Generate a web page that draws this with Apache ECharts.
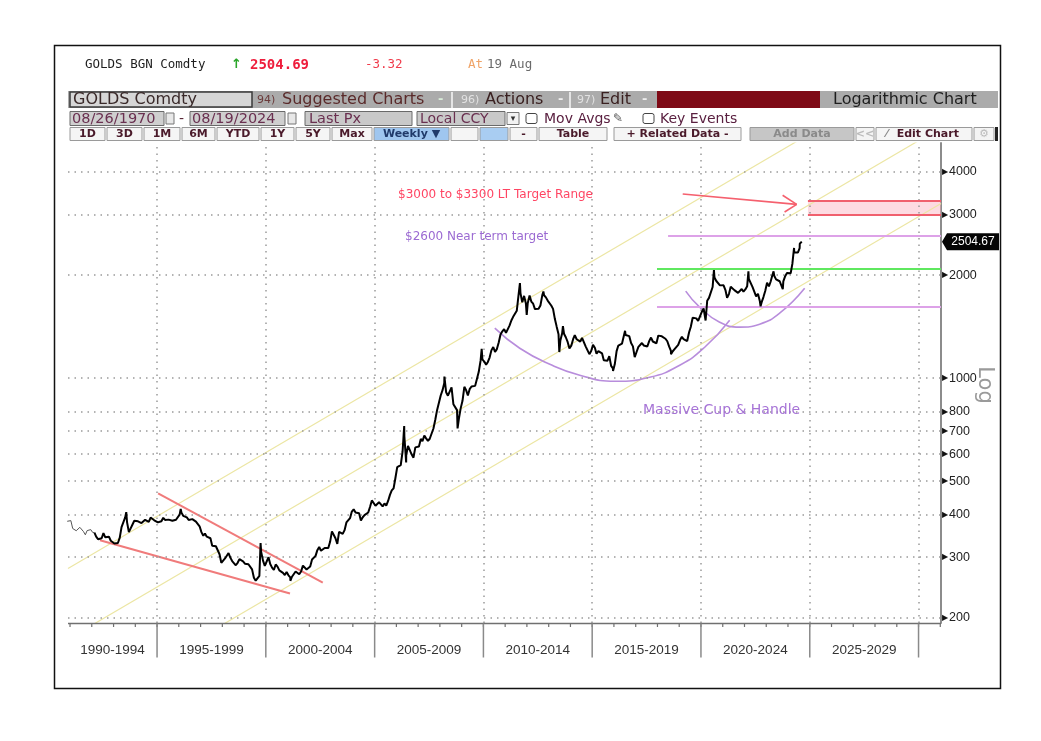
<!DOCTYPE html>
<html>
<head>
<meta charset="utf-8">
<title>GOLDS BGN Comdty</title>
<script src="https://cdn.jsdelivr.net/npm/echarts@6/dist/echarts.min.js"></script>
<style>
html,body{margin:0;padding:0;background:#fff;}
#chart{width:1041px;height:741px;}
</style>
</head>
<body>
<div id="chart"></div>
<script>
// ================= DATA =================
// Monthly gold price (USD/oz), starting Nov 1990
const firstMonth = [1990, 11];
const monthlyPrices = [
  381.9, 378.2,
  383.6, 363.8, 363.3, 358.4, 356.8, 366.7, 367.7, 356.4, 348.7, 358.7, 359.8, 361.1,
  354.5, 353.9, 344.3, 338.6, 337.2, 340.8, 352.7, 342.9, 345.4, 344.4, 335.0, 334.8,
  329.0, 329.3, 330.1, 342.2, 367.2, 371.9, 392.0, 379.8, 355.3, 364.2, 373.8, 383.3,
  387.0, 381.9, 384.1, 377.3, 381.4, 385.6, 385.5, 380.4, 391.6, 389.8, 384.4, 379.3,
  379.0, 376.6, 382.1, 391.0, 385.3, 387.6, 386.2, 383.7, 383.1, 383.0, 385.9, 387.0,
  399.5, 404.8, 396.2, 392.9, 391.9, 385.3, 383.5, 387.5, 383.1, 381.1, 377.9, 369.3,
  355.0, 346.6, 351.8, 344.4, 343.8, 340.8, 324.1, 324.0, 322.8, 324.9, 306.0, 288.7,
  289.3, 297.5, 295.9, 308.4, 299.1, 292.3, 292.9, 284.1, 288.9, 295.9, 294.1, 291.6,
  287.1, 287.3, 286.0, 282.6, 276.4, 261.3, 256.1, 256.7, 264.7, 310.7, 293.2, 283.1,
  284.6, 299.9, 286.4, 279.7, 275.2, 285.7, 281.6, 274.5, 273.7, 270.0, 266.0, 271.5,
  265.5, 261.9, 263.0, 260.5, 272.4, 270.2, 267.5, 272.4, 283.4, 283.1, 276.2, 275.9,
  281.7, 295.5, 294.0, 302.7, 314.5, 321.2, 313.3, 310.3, 319.2, 316.6, 319.2, 332.6,
  356.9, 359.0, 340.6, 328.2, 355.7, 356.4, 351.0, 359.8, 378.9, 378.9, 389.9, 407.6,
  414.0, 405.3, 406.7, 403.0, 383.8, 392.4, 398.1, 400.5, 405.3, 420.5, 439.4, 442.1,
  424.0, 423.4, 434.2, 428.9, 421.9, 430.7, 424.5, 437.9, 456.1, 469.9, 476.7, 510.1,
  549.9, 555.0, 557.1, 610.6, 676.5, 596.2, 633.8, 632.6, 598.2, 585.8, 627.8, 629.8,
  631.2, 664.8, 654.9, 679.4, 666.9, 655.5, 665.3, 665.4, 712.7, 754.6, 806.3, 803.2,
  889.6, 922.3, 968.4, 909.7, 888.7, 889.5, 939.8, 839.0, 829.9, 806.6, 760.9, 816.1,
  858.7, 943.2, 924.3, 890.2, 928.6, 945.7, 934.2, 949.4, 996.6, 1043.2, 1127.0, 1134.7,
  1118.0, 1095.4, 1113.3, 1148.7, 1205.4, 1232.9, 1193.0, 1215.8, 1271.0, 1342.0, 1369.9, 1390.6,
  1356.4, 1372.7, 1424.0, 1473.8, 1510.4, 1528.7, 1572.8, 1755.8, 1771.9, 1665.2, 1739.0, 1652.3,
  1656.1, 1742.6, 1673.8, 1649.7, 1591.2, 1598.8, 1594.3, 1630.3, 1744.8, 1746.6, 1721.6, 1684.8,
  1671.9, 1627.6, 1593.1, 1487.9, 1414.0, 1343.4, 1285.5, 1351.7, 1348.6, 1316.6, 1275.9, 1221.5,
  1244.3, 1299.6, 1336.1, 1299.0, 1287.5, 1279.1, 1310.6, 1295.1, 1236.6, 1222.5, 1175.3, 1200.6,
  1250.8, 1227.1, 1178.6, 1198.9, 1198.6, 1181.5, 1128.3, 1117.9, 1124.8, 1159.3, 1086.4, 1068.3,
  1097.9, 1199.5, 1245.1, 1242.3, 1260.9, 1276.4, 1336.7, 1340.2, 1326.6, 1266.6, 1238.4, 1151.4,
  1192.1, 1234.2, 1231.4, 1266.9, 1246.0, 1260.3, 1236.8, 1283.0, 1314.1, 1279.5, 1281.9, 1264.5,
  1331.3, 1330.7, 1324.7, 1334.8, 1303.5, 1281.6, 1238.0, 1201.7, 1198.4, 1215.4, 1220.7, 1250.4,
  1291.8, 1320.1, 1300.9, 1285.9, 1283.7, 1359.0, 1412.9, 1500.4, 1510.6, 1494.8, 1470.0, 1479.1,
  1560.7, 1597.1, 1591.9, 1683.2, 1715.9, 1732.2, 1846.5, 1968.6, 1921.9, 1900.3, 1866.3, 1858.4,
  1867.0, 1808.2, 1718.2, 1760.0, 1850.3, 1834.6, 1807.8, 1785.3, 1775.1, 1776.8, 1821.3, 1790.3,
  1816.0, 1856.3, 1947.8, 1937.4, 1848.5, 1836.6, 1732.7, 1764.6, 1680.6, 1664.5, 1725.1, 1797.6,
  1898.4, 1854.0, 1912.7, 2000.4, 1991.2, 1942.9, 1951.0, 1918.7, 1916.9, 1916.9, 1985.8, 2026.7,
  2033.9, 2023.2, 2158.9, 2331.0, 2350.8, 2326.8, 2398.9
];
// Weekly swing highs / lows visible on the chart
const swingPoints = [
  ['1993-08-02', 406], ['1996-02-02', 415], ['1999-07-20', 253], ['1999-10-05', 330],
  ['2001-02-16', 256], ['2006-05-12', 725], ['2006-06-14', 567], ['2008-03-17', 1011],
  ['2008-10-24', 713], ['2009-12-03', 1218], ['2011-09-06', 1895], ['2011-12-29', 1531],
  ['2012-10-04', 1792], ['2013-06-28', 1192], ['2013-08-28', 1420], ['2015-12-17', 1050],
  ['2016-07-06', 1375], ['2018-08-16', 1174], ['2020-03-19', 1474], ['2020-08-06', 2067],
  ['2022-03-08', 2050], ['2022-09-28', 1622], ['2023-05-04', 2050], ['2023-10-06', 1820],
  ['2024-04-12', 2400], ['2024-07-17', 2470], ['2024-08-19', 2504.67]
];
const thinSegmentEnd = '1992-02-15';
const periodLabels = ['1990-1994','1995-1999','2000-2004','2005-2009','2010-2014','2015-2019','2020-2024','2025-2029'];
const yTickValues = [200, 300, 400, 500, 600, 700, 800, 1000, 2000, 3000, 4000];
const lastPrice = 2504.67;
const xRange = ['1990-11-28', '2031-01-13'];
const yRange = [192.7, 4862];
// Drawn trend channel (pale yellow) – endpoints
const channelLines = [
  [['1990-11-28', 278], ['2031-01-13', 8680]],
  [['1990-11-28', 172.8], ['2031-01-13', 5395]],
  [['1990-11-28', 103.6], ['2031-01-13', 3235]]
];
// Falling wedge 1992-2002
const wedgeUpper = [['1995-01-19', 461], ['2002-08-14', 253]];
const wedgeLower = [['1992-05-18', 336], ['2001-02-10', 235]];
// Cup & handle arcs
const cupCurve = [
  ['2010-07-11', 1400], ['2011-09-03', 1223], ['2013-01-20', 1098], ['2014-06-07', 1020],
  ['2016-01-15', 979], ['2017-08-24', 1006], ['2019-01-10', 1091], ['2020-03-04', 1231],
  ['2021-04-27', 1477]
];
const handleCurve = [
  ['2019-04-20', 1796], ['2019-12-10', 1612], ['2020-11-10', 1457], ['2021-10-12', 1409],
  ['2022-09-13', 1438], ['2023-08-14', 1548], ['2024-10-07', 1832]
];
// Horizontal levels
const nearTermTarget = { from: '2018-06-28', value: 2600 };
const handleRim = { from: '2017-12-24', value: 2085 };
const handleLow = { from: '2017-12-24', value: 1620 };
const targetRange = { from: '2024-12-01', low: 3000, high: 3300 };
const arrowLine = [['2019-03-01', 3450], ['2024-05-26', 3218]];
const arrowWings = [[['2023-10-03', 3422], ['2024-05-26', 3218]], [['2023-11-05', 3056], ['2024-05-26', 3218]]];

// ================= BUILD =================
function pad(n) { return String(n).padStart(2, '0'); }
const monthlyData = monthlyPrices.map((v, i) => {
  const t = firstMonth[1] - 1 + i;
  const y = firstMonth[0] + Math.floor(t / 12);
  return [y + '-' + pad(t % 12 + 1) + '-15', v];
});
const allPrices = monthlyData.concat(swingPoints).sort((a, b) => a[0] < b[0] ? -1 : a[0] > b[0] ? 1 : 0);
const earlyPrices = allPrices.filter(p => p[0] <= thinSegmentEnd);
const mainPrices = allPrices.filter(p => p[0] >= thinSegmentEnd);

const chart = echarts.init(document.getElementById('chart'), null, { renderer: 'canvas' });

const levelLine = (lv, color) => [
  { coord: [lv.from, lv.value], lineStyle: { color: color, width: 2, type: 'solid' } },
  { coord: [xRange[1], lv.value] }
];

const gridMarks = yTickValues.map(v => ({
  yAxis: v,
  label: {
    show: true, position: 'end', distance: 1,
    formatter: '{t|▶}' + v,
    color: '#222', fontFamily: 'Liberation Sans', fontSize: 12.5,
    rich: { t: { fontSize: 8, color: '#111', padding: [0, 1, 0, 0] } }
  }
})).concat([1995, 2000, 2005, 2010, 2015, 2020, 2025, 2030].map(y => ({ xAxis: y + '-01-01', label: { show: false } })));

const option = {
  animation: false,
  backgroundColor: '#fff',
  grid: { left: 68, right: 100, top: 143, bottom: 118, containLabel: false },
  xAxis: {
    type: 'time', min: xRange[0], max: xRange[1],
    axisLine: { show: false }, axisTick: { show: false }, axisLabel: { show: false }, splitLine: { show: false }
  },
  yAxis: {
    type: 'log', logBase: 10, min: yRange[0], max: yRange[1], position: 'right',
    axisLine: { show: true, lineStyle: { color: '#8c8c8c', width: 2 } },
    axisTick: { show: false }, axisLabel: { show: false }, splitLine: { show: false }
  },
  series: [
    {
      type: 'line', name: 'grid', data: [], z: 1, silent: true,
      markLine: {
        silent: true, symbol: ['none', 'none'], animation: false,
        lineStyle: { type: [1.5, 5], color: '#9a9a9a', width: 1.5 },
        data: gridMarks
      }
    },
    ...channelLines.map(cl => ({
      type: 'line', data: cl, showSymbol: false, silent: true, z: 2, clip: true,
      lineStyle: { color: '#ece6a4', width: 1.2 }
    })),
    {
      type: 'line', name: 'early', data: earlyPrices, showSymbol: false, silent: true, z: 5,
      lineStyle: { color: '#555', width: 1 }
    },
    {
      type: 'line', name: 'GOLDS', data: mainPrices, showSymbol: false, silent: true, z: 5,
      lineStyle: { color: '#000', width: 2 }
    },
    {
      type: 'line', data: wedgeUpper, showSymbol: false, silent: true, z: 4,
      lineStyle: { color: '#f07b7b', width: 2 }
    },
    {
      type: 'line', data: wedgeLower, showSymbol: false, silent: true, z: 4,
      lineStyle: { color: '#f07b7b', width: 2 }
    },
    {
      type: 'line', data: cupCurve, smooth: true, showSymbol: false, silent: true, z: 4,
      lineStyle: { color: '#b88ddc', width: 1.6 }
    },
    {
      type: 'line', data: handleCurve, smooth: true, showSymbol: false, silent: true, z: 4,
      lineStyle: { color: '#b88ddc', width: 1.6 }
    },
    {
      type: 'line', name: 'levels', data: [], z: 3, silent: true,
      markArea: {
        silent: true,
        itemStyle: { color: 'rgba(250,175,190,0.45)' },
        data: [[{ coord: [targetRange.from, targetRange.low] }, { coord: [xRange[1], targetRange.high] }]]
      },
      markLine: {
        silent: true, symbol: ['none', 'none'], animation: false,
        label: { show: false },
        data: [
          levelLine(nearTermTarget, '#dda2e8'),
          levelLine(handleRim, '#5fe85f'),
          levelLine(handleLow, '#dda2e8'),
          levelLine({ from: targetRange.from, value: targetRange.low }, '#f0606e'),
          levelLine({ from: targetRange.from, value: targetRange.high }, '#f0606e'),
          [{ coord: arrowLine[0], lineStyle: { color: '#f5606e', width: 1.6, type: 'solid' } }, { coord: arrowLine[1] }],
          [{ coord: arrowWings[0][0], lineStyle: { color: '#f5606e', width: 1.6, type: 'solid' } }, { coord: arrowWings[0][1] }],
          [{ coord: arrowWings[1][0], lineStyle: { color: '#f5606e', width: 1.6, type: 'solid' } }, { coord: arrowWings[1][1] }]
        ]
      }
    }
  ]
};
chart.setOption(option);

// ================= GRAPHIC (header, toolbar, axis texts) =================
const DV = '"DejaVu Sans"';
const MONO = '"DejaVu Sans Mono"';
const T = (x, y, text, st) => ({
  type: 'text', silent: true, z: 60,
  style: Object.assign({ text: text, x: x, y: y, fill: '#5a2838', font: '14px ' + DV, textAlign: 'left', textVerticalAlign: 'middle' }, st || {})
});
const R = (x, y, w, h, fill, stroke, lw) => ({
  type: 'rect', silent: true, z: 50, shape: { x: x, y: y, width: w, height: h },
  style: { fill: fill, stroke: stroke || null, lineWidth: lw || 1 }
});
const L = (x1, y1, x2, y2, stroke, lw) => ({
  type: 'line', silent: true, z: 55, shape: { x1: x1, y1: y1, x2: x2, y2: y2 },
  style: { stroke: stroke, lineWidth: lw || 1 }
});

const g = [];
// outer frame
g.push({ type: 'rect', silent: true, z: 70, shape: { x: 54.5, y: 45.5, width: 946, height: 643 }, style: { fill: null, stroke: '#111', lineWidth: 1.5 } });

// header line
g.push(T(85, 65, 'GOLDS BGN Comdty', { font: '12.5px ' + MONO, fill: '#1e1e1e' }));
g.push(T(231, 65, '↑', { font: 'bold 13px ' + DV, fill: '#2aa52a' }));
g.push(T(250, 65, '2504.69', { font: 'bold 14px ' + MONO, fill: '#ee1d3c' }));
g.push(T(365, 65, '-3.32', { font: '12.5px ' + MONO, fill: '#f03c4c' }));
g.push(T(468, 65, 'At', { font: '12.5px ' + MONO, fill: '#f0a468' }));
g.push(T(487, 65, '19 Aug', { font: '12.5px ' + MONO, fill: '#6a6a6a' }));

// toolbar row 1
g.push(R(68, 91, 930, 17, '#ababab'));
g.push(R(70, 92, 182, 15, '#d6d6d6', '#3a3a3a', 1.5));
g.push(T(73, 100, 'GOLDS Comdty', { font: '16px ' + DV, fill: '#3a2a2a' }));
g.push(T(257, 100, '94)', { font: '11px ' + DV, fill: '#6a3a3a' }));
g.push(T(282, 100, 'Suggested Charts', { font: '16px ' + DV, fill: '#5a2a2a' }));
g.push(T(438, 100, '-', { font: 'bold 13px ' + DV, fill: '#d8ecd8' }));
g.push(L(452, 92, 452, 108, '#e4e4e4', 2));
g.push(T(461, 100, '96)', { font: '11px ' + DV, fill: '#e2e2e2' }));
g.push(T(485, 100, 'Actions', { font: '16px ' + DV, fill: '#3a2020' }));
g.push(T(558, 100, '-', { font: 'bold 13px ' + DV, fill: '#eeeeee' }));
g.push(L(570, 92, 570, 108, '#e4e4e4', 2));
g.push(T(577, 100, '97)', { font: '11px ' + DV, fill: '#e2e2e2' }));
g.push(T(600, 100, 'Edit', { font: '16px ' + DV, fill: '#3a2020' }));
g.push(T(642, 100, '-', { font: 'bold 13px ' + DV, fill: '#eeeeee' }));
g.push(R(657, 91, 163, 17, '#7e0a16'));
g.push(T(833, 100, 'Logarithmic Chart', { font: '16px ' + DV, fill: '#1e1e1e' }));

// toolbar row 2
const box2 = (x, w, fill) => R(x, 111.5, w, 14, fill || '#cfcfcf', '#6a6a6a', 1);
g.push(box2(70, 94)); g.push(T(72, 119, '08/26/1970', { font: '14.5px ' + DV, fill: '#6a3050' }));
g.push(R(166, 113, 8, 11, '#e8e8e8', '#777', 1));
g.push(T(179, 119, '-', { font: '14px ' + DV, fill: '#5a2838' }));
g.push(box2(190, 95)); g.push(T(192, 119, '08/19/2024', { font: '14.5px ' + DV, fill: '#6a3050' }));
g.push(R(288, 113, 8, 11, '#e8e8e8', '#777', 1));
g.push(box2(305, 107, '#c9c9c9')); g.push(T(309, 119, 'Last Px', { font: '14.5px ' + DV, fill: '#6a3050' }));
g.push(box2(417, 88, '#c9c9c9')); g.push(T(420, 119, 'Local CCY', { font: '14px ' + DV, fill: '#6a3050' }));
g.push(R(507, 112.5, 12, 12, '#f2f2f2', '#777', 1)); g.push(T(513, 119, '▾', { font: '9px ' + DV, fill: '#333', textAlign: 'center' }));
g.push({ type: 'rect', silent: true, z: 50, shape: { x: 526, y: 113.5, width: 11, height: 10, r: 2 }, style: { fill: '#fff', stroke: '#444', lineWidth: 1 } });
g.push(T(544, 119, 'Mov Avgs', { font: '14px ' + DV, fill: '#5a2040' }));
g.push(T(613, 119, '✎', { font: '12px ' + DV, fill: '#555' }));
g.push({ type: 'rect', silent: true, z: 50, shape: { x: 643, y: 113.5, width: 11, height: 10, r: 2 }, style: { fill: '#fff', stroke: '#444', lineWidth: 1 } });
g.push(T(660, 119, 'Key Events', { font: '14px ' + DV, fill: '#5a2040' }));

// toolbar row 3
const buttons = [
  [70, 35, '1D'], [107, 35, '3D'], [144, 36, '1M'], [182, 33, '6M'], [217, 42, 'YTD'],
  [261, 33, '1Y'], [296, 34, '5Y'], [332, 40, 'Max'], [374, 75, 'Weekly ▼', '#9fc6ef', '#203a6a'],
  [451, 27, ''], [480, 28, '', '#a9cdf2'], [510, 27, '-'], [539, 68, 'Table'],
  [614, 127, '+ Related Data -'], [750, 104, 'Add Data', '#c6c6c6', '#8a8a8a'],
  [856, 18, '<<', '#f4f4f4', '#bbbbbb'], [876, 96, '  Edit Chart'], [974, 20, '⚙', '#f4f4f4', '#bbbbbb']
];
buttons.forEach(b => {
  g.push(R(b[0], 127.5, b[1], 13, b[3] || '#f5f5f5', '#9a9a9a', 1));
  if (b[2]) g.push(T(b[0] + b[1] / 2, 134.5, b[2], { font: 'bold 11px ' + DV, fill: b[4] || '#4a1a2a', textAlign: 'center' }));
});
g.push(T(887, 134.5, '⁄', { font: 'bold 11px ' + DV, fill: '#888', textAlign: 'center' }));
g.push(R(995, 127, 3, 14, '#222'));

// annotations
g.push(T(398, 195, '$3000 to $3300 LT Target Range', { font: '12px ' + DV, fill: '#ff4563' }));
g.push(T(405, 237, '$2600 Near term target', { font: '12px ' + DV, fill: '#9b6ad2' }));
g.push(T(643, 410, 'Massive Cup & Handle', { font: '14px ' + DV, fill: '#a673d6' }));

// axis-related texts, positioned through the chart's scales
const px = d => chart.convertToPixel({ xAxisIndex: 0 }, d);
const py = v => chart.convertToPixel({ yAxisIndex: 0 }, v);
const rulerY = 623.5;
const xLeft = px(xRange[0]), xRight = px(xRange[1]);
g.push(L(xLeft, rulerY, xRight, rulerY, '#707070', 1.5));
for (let y = 1991; y <= 2031; y++) {
  const x = px(y + '-01-01');
  if (x > xLeft && x < xRight) g.push(L(x, rulerY, x, rulerY + 3.5, '#707070', 1.2));
}
periodLabels.forEach(lab => {
  const y0 = +lab.slice(0, 4);
  const a = Math.max(px(y0 + '-01-01'), xLeft);
  const b = px((y0 + 5) + '-01-01');
  g.push(L(b, rulerY, b, rulerY + 34, '#8a8a8a', 1.5));
  g.push(T((a + b) / 2, 650, lab, { font: '13.5px "Liberation Sans"', fill: '#333', textAlign: 'center' }));
});
// last price tag
const ty = py(lastPrice);
g.push({ type: 'polygon', silent: true, z: 60, shape: { points: [[942, ty], [947, ty - 8.5], [999, ty - 8.5], [999, ty + 8.5], [947, ty + 8.5]] }, style: { fill: '#050505' } });
g.push(T(973, ty, lastPrice.toFixed(2), { font: '12px "Liberation Sans"', fill: '#fff', textAlign: 'center', z: 61 }));
// "Log" axis name
g.push({ type: 'text', silent: true, z: 60, x: 984, y: 385, rotation: -Math.PI / 2,
  style: { text: 'Log', x: 0, y: 0, fill: '#9a9a9a', font: '21px ' + DV, textAlign: 'center', textVerticalAlign: 'middle' } });

chart.setOption({ graphic: { elements: g } });
</script>
</body>
</html>
